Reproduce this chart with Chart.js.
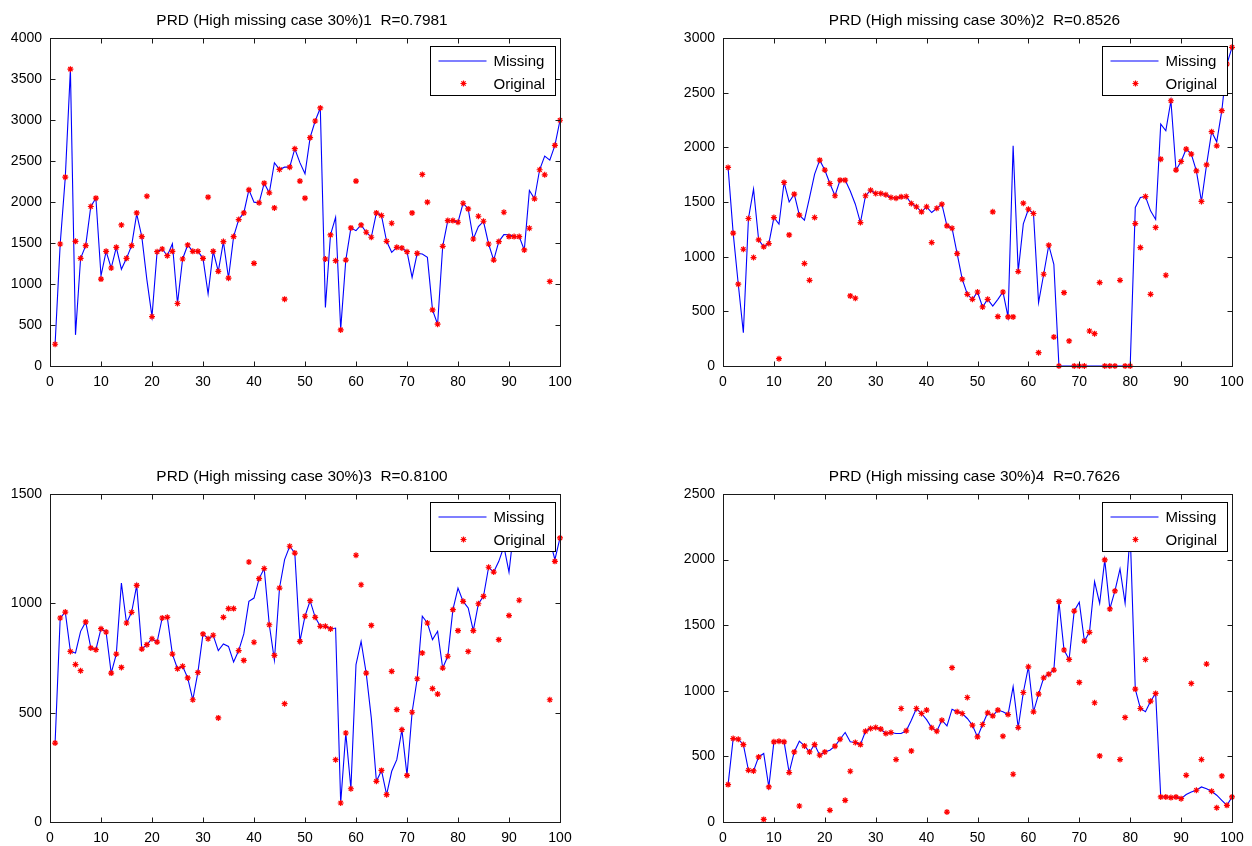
<!DOCTYPE html>
<html>
<head>
<meta charset="utf-8">
<title>PRD (High missing case 30%)</title>
<script src="https://cdn.jsdelivr.net/npm/chart.js@4/dist/chart.umd.min.js"></script>
<style>
  html, body { margin: 0; padding: 0; background: #ffffff; }
  body { width: 1252px; height: 846px; position: relative; overflow: hidden; }
  canvas { position: absolute; }
</style>
</head>
<body>
<canvas id="panel1"></canvas>
<canvas id="panel2"></canvas>
<canvas id="panel3"></canvas>
<canvas id="panel4"></canvas>
<script>
// Sample index (x axis) shared by all four panels
const sampleIndex = Array.from({ length: 100 }, (_, k) => k + 1);

// Tick labels
const xTicks = [0, 10, 20, 30, 40, 50, 60, 70, 80, 90, 100];
const yTicks1 = [0, 500, 1000, 1500, 2000, 2500, 3000, 3500, 4000];
const yTicks2 = [0, 500, 1000, 1500, 2000, 2500, 3000];
const yTicks3 = [0, 500, 1000, 1500];
const yTicks4 = [0, 500, 1000, 1500, 2000, 2500];

// Panel titles
const titles = [
  'PRD (High missing case 30%)1  R=0.7981',
  'PRD (High missing case 30%)2  R=0.8526',
  'PRD (High missing case 30%)3  R=0.8100',
  'PRD (High missing case 30%)4  R=0.7626'
];
const seriesNames = ['Missing', 'Original'];

// Panel 1
const missing1 = [265, 1488, 2303, 3620, 380, 1313, 1468, 1945, 2047, 1100,
  1398, 1195, 1447, 1180, 1313, 1468, 1855, 1578, 1050, 603,
  1394, 1427, 1345, 1490, 762, 1305, 1476, 1398, 1398, 1313,
  880, 1398, 1154, 1517, 1072, 1578, 1786, 1867, 2148, 1998,
  1990, 2230, 2112, 2479, 2397, 2425, 2425, 2650, 2480, 2344,
  2785, 2988, 3147, 713, 1598, 1814, 450, 1292, 1684, 1651,
  1720, 1631, 1570, 1867, 1835, 1521, 1386, 1447, 1439, 1394,
  1080, 1374, 1366, 1325, 685, 510, 1460, 1773, 1773, 1753,
  1985, 1916, 1549, 1700, 1765, 1488, 1292, 1517, 1602, 1600,
  1578, 1578, 1415, 2140, 2039, 2393, 2560, 2510, 2691, 2997];
const original1 = [265, 1488, 2303, 3620, 1520, 1313, 1468, 1945, 2047, 1060,
  1398, 1195, 1447, 1720, 1313, 1468, 1867, 1578, 2071, 603,
  1394, 1427, 1345, 1398, 762, 1305, 1476, 1398, 1398, 1313,
  2059, 1398, 1154, 1517, 1072, 1578, 1786, 1867, 2148, 1252,
  1990, 2230, 2112, 1928, 2397, 815, 2425, 2650, 2255, 2047,
  2785, 2988, 3147, 1305, 1598, 1284, 440, 1292, 1684, 2255,
  1720, 1631, 1570, 1867, 1835, 1521, 1741, 1447, 1439, 1394,
  1867, 1374, 2336, 1998, 685, 510, 1460, 1773, 1773, 1753,
  1985, 1916, 1549, 1826, 1765, 1488, 1292, 1517, 1875, 1578,
  1578, 1578, 1415, 1680, 2039, 2393, 2332, 1031, 2691, 2997];

// Panel 2
const missing2 = [1816, 1215, 748, 305, 1349, 1618, 1154, 1090, 1120, 1358,
  1297, 1679, 1500, 1572, 1380, 1334, 1540, 1755, 1883, 1792,
  1669, 1557, 1700, 1700, 1600, 1480, 1312, 1557, 1608, 1578,
  1578, 1566, 1541, 1535, 1547, 1550, 1486, 1456, 1410, 1456,
  1404, 1443, 1480, 1282, 1260, 1028, 794, 656, 610, 677,
  540, 610, 549, 610, 677, 449, 2014, 864, 1300, 1434,
  1395, 580, 839, 1105, 930, 0, 0, 0, 0, 0,
  0, 0, 0, 0, 0, 0, 0, 0, 0, 0,
  1450, 1541, 1550, 1419, 1340, 2213, 2152, 2426, 1792, 1871,
  1984, 1938, 1785, 1505, 1840, 2143, 2050, 2335, 2762, 2915];
const original2 = [1816, 1215, 748, 1068, 1349, 992, 1154, 1090, 1120, 1358,
  67, 1679, 1199, 1572, 1380, 937, 784, 1358, 1883, 1792,
  1669, 1557, 1700, 1700, 641, 620, 1312, 1557, 1608, 1578,
  1578, 1566, 1541, 1535, 1547, 1550, 1486, 1456, 1410, 1456,
  1129, 1443, 1480, 1282, 1260, 1028, 794, 656, 610, 677,
  540, 610, 1410, 452, 677, 449, 449, 864, 1489, 1434,
  1395, 122, 839, 1105, 265, 0, 671, 229, 0, 0,
  0, 320, 296, 763, 0, 0, 0, 784, 0, 0,
  1303, 1083, 1550, 656, 1267, 1892, 830, 2426, 1792, 1871,
  1984, 1938, 1785, 1505, 1840, 2143, 2014, 2335, 2762, 2915];

// Panel 3
const missing3 = [361, 933, 960, 780, 773, 872, 915, 796, 788, 884,
  869, 681, 768, 1093, 910, 959, 1082, 791, 811, 838,
  823, 933, 936, 768, 701, 712, 659, 559, 684, 860,
  838, 854, 784, 814, 803, 732, 784, 860, 1009, 1024,
  1113, 1159, 902, 740, 1070, 1200, 1261, 1230, 826, 941,
  1012, 936, 895, 895, 883, 887, 87, 407, 152, 720,
  826, 681, 476, 186, 236, 125, 232, 285, 422, 213,
  502, 655, 941, 910, 834, 872, 704, 758, 971, 1070,
  1009, 979, 875, 998, 1032, 1165, 1143, 1192, 1260, 1143,
  1350, 1420, 1400, 1390, 1370, 1340, 1310, 1290, 1200, 1299];
const original3 = [361, 933, 960, 780, 720, 692, 915, 796, 788, 884,
  869, 681, 768, 707, 910, 959, 1082, 791, 811, 838,
  823, 933, 936, 768, 701, 712, 659, 559, 684, 860,
  838, 854, 476, 936, 976, 976, 784, 739, 1189, 822,
  1113, 1159, 902, 762, 1070, 541, 1261, 1230, 826, 941,
  1012, 936, 895, 895, 883, 285, 87, 407, 152, 1220,
  1085, 681, 899, 186, 236, 125, 689, 514, 422, 213,
  502, 655, 773, 910, 610, 585, 704, 758, 971, 875,
  1009, 780, 875, 998, 1032, 1165, 1143, 834, 1260, 944,
  1350, 1014, 1400, 1390, 1370, 1340, 1310, 559, 1192, 1299];

// Panel 4
const missing4 = [285, 636, 631, 590, 394, 389, 496, 522, 267, 611,
  616, 611, 377, 534, 616, 580, 534, 590, 509, 534,
  547, 578, 631, 682, 611, 606, 590, 692, 713, 720,
  708, 674, 682, 674, 674, 695, 776, 865, 827, 780,
  718, 692, 776, 733, 860, 840, 827, 789, 738, 649,
  743, 832, 809, 853, 840, 819, 1031, 720, 987, 1183,
  840, 975, 1099, 1127, 1158, 1680, 1311, 1239, 1608, 1675,
  1379, 1446, 1832, 1667, 1998, 1624, 1761, 1929, 1667, 2200,
  1013, 865, 840, 921, 980, 191, 191, 186, 191, 178,
  209, 229, 242, 267, 254, 234, 204, 165, 127, 191];
const original4 = [285, 636, 631, 590, 394, 389, 496, 20, 267, 611,
  616, 611, 377, 534, 122, 580, 534, 590, 509, 534,
  89, 578, 631, 165, 387, 606, 590, 692, 713, 720,
  708, 674, 682, 476, 865, 695, 542, 865, 827, 853,
  718, 692, 776, 76, 1176, 840, 827, 949, 738, 649,
  743, 832, 809, 853, 654, 819, 364, 720, 987, 1183,
  840, 975, 1099, 1127, 1158, 1680, 1311, 1239, 1608, 1064,
  1379, 1446, 909, 504, 1998, 1624, 1761, 476, 797, 2200,
  1013, 865, 1239, 921, 980, 191, 191, 186, 191, 178,
  356, 1056, 242, 476, 1204, 234, 109, 351, 127, 191];

const FONT_FAMILY = '"Liberation Sans", Arial, Helvetica, sans-serif';
const LINE_BLUE = '#0000ff';
const MARK_RED = '#ff0000';
const AXIS_INK = '#1a1a1a';

// Axes box, inward ticks, title and an opaque legend drawn over the data
const panelDecor = {
  id: 'panelDecor',
  afterDatasetsDraw(chart, args, opts) {
    const { ctx, chartArea: a, scales } = chart;
    const xs = scales.x, ys = scales.y;
    const L = Math.round(a.left) + 0.5, T = Math.round(a.top) + 0.5;
    const R = Math.round(a.right) + 0.5, B = Math.round(a.bottom) + 0.5;
    ctx.save();

    // box
    ctx.strokeStyle = AXIS_INK;
    ctx.lineWidth = 1;
    ctx.strokeRect(L, T, R - L, B - T);

    // inward tick marks on all four sides
    ctx.beginPath();
    xs.ticks.forEach(t => {
      const px = Math.round(xs.getPixelForValue(t.value)) + 0.5;
      ctx.moveTo(px, B); ctx.lineTo(px, B - 5);
      ctx.moveTo(px, T); ctx.lineTo(px, T + 5);
    });
    ys.ticks.forEach(t => {
      const py = Math.round(ys.getPixelForValue(t.value)) + 0.5;
      ctx.moveTo(L, py); ctx.lineTo(L + 5, py);
      ctx.moveTo(R, py); ctx.lineTo(R - 5, py);
    });
    ctx.stroke();

    // title
    ctx.fillStyle = '#000000';
    ctx.font = '15.4px ' + FONT_FAMILY;
    ctx.textAlign = 'center';
    ctx.textBaseline = 'middle';
    ctx.fillText(opts.text, (a.left + a.right) / 2 - 3, a.top - 17.5);

    // legend (north-east, opaque)
    const bx = Math.round(a.right - 130) + 0.5;
    const by = Math.round(a.top + 8) + 0.5;
    const bw = 125, bh = 49;
    ctx.fillStyle = '#ffffff';
    ctx.fillRect(bx, by, bw, bh);
    ctx.strokeStyle = '#000000';
    ctx.lineWidth = 1;
    ctx.strokeRect(bx, by, bw, bh);

    const lineDs = chart.data.datasets[1];
    const markDs = chart.data.datasets[0];
    const row1 = by + 14, row2 = by + 37;

    ctx.strokeStyle = lineDs.borderColor;
    ctx.lineWidth = lineDs.borderWidth;
    ctx.beginPath();
    ctx.moveTo(bx + 8, Math.round(row1));
    ctx.lineTo(bx + 56, Math.round(row1));
    ctx.stroke();

    ctx.strokeStyle = markDs.pointBorderColor;
    ctx.fillStyle = markDs.pointBorderColor;
    ctx.lineWidth = markDs.pointBorderWidth;
    Chart.helpers.drawPoint(ctx, {
      pointStyle: markDs.pointStyle,
      radius: markDs.pointRadius,
      borderWidth: markDs.pointBorderWidth,
      rotation: 0
    }, bx + 33, row2);

    ctx.fillStyle = '#000000';
    ctx.font = '15px ' + FONT_FAMILY;
    ctx.textAlign = 'left';
    ctx.textBaseline = 'middle';
    ctx.fillText(lineDs.label, bx + 63, row1 + 1);
    ctx.fillText(markDs.label, bx + 63, row2 + 1);

    ctx.restore();
  }
};

function buildPanel(canvasId, frame, title, yTicks, missing, original) {
  const el = document.getElementById(canvasId);
  el.width = frame.w;
  el.height = frame.h;
  el.style.left = frame.x + 'px';
  el.style.top = frame.y + 'px';
  const toPoints = vals => vals.map((v, k) => ({ x: sampleIndex[k], y: v }));
  const tickFont = { family: FONT_FAMILY, size: 14 };

  return new Chart(el, {
    type: 'line',
    data: {
      datasets: [
        {
          label: seriesNames[1],
          data: toPoints(original),
          showLine: false,
          pointStyle: 'star',
          pointRadius: 3,
          pointHoverRadius: 3,
          pointBorderColor: MARK_RED,
          pointBackgroundColor: MARK_RED,
          pointBorderWidth: 1.2,
          clip: 6
        },
        {
          label: seriesNames[0],
          data: toPoints(missing),
          borderColor: LINE_BLUE,
          borderWidth: 1.1,
          pointRadius: 0,
          pointHoverRadius: 0,
          tension: 0,
          fill: false,
          clip: 3
        }
      ]
    },
    options: {
      responsive: false,
      animation: false,
      devicePixelRatio: 1,
      events: [],
      layout: { padding: frame.pad },
      plugins: {
        legend: { display: false },
        tooltip: { enabled: false },
        title: { display: false },
        panelDecor: { text: title }
      },
      scales: {
        x: {
          type: 'linear',
          min: xTicks[0],
          max: xTicks[xTicks.length - 1],
          afterBuildTicks: s => { s.ticks = xTicks.map(v => ({ value: v })); },
          afterFit: s => { s.height = 24; },
          grid: { display: false },
          border: { display: false },
          ticks: { font: tickFont, color: '#000000', padding: 0, maxRotation: 0, autoSkip: false, callback: v => String(v) }
        },
        y: {
          type: 'linear',
          min: yTicks[0],
          max: yTicks[yTicks.length - 1],
          afterBuildTicks: s => { s.ticks = yTicks.map(v => ({ value: v })); },
          afterFit: s => { s.width = 50; },
          grid: { display: false },
          border: { display: false },
          ticks: { font: tickFont, color: '#000000', padding: 0, autoSkip: false, callback: v => String(v) }
        }
      }
    },
    plugins: [panelDecor]
  });
}

buildPanel('panel1', { x: 0, y: 0, w: 626, h: 423, pad: { left: 0, top: 38, right: 66, bottom: 33 } },
  titles[0], yTicks1, missing1, original1);
buildPanel('panel2', { x: 626, y: 0, w: 626, h: 423, pad: { left: 47, top: 38, right: 20, bottom: 33 } },
  titles[1], yTicks2, missing2, original2);
buildPanel('panel3', { x: 0, y: 423, w: 626, h: 423, pad: { left: 0, top: 71, right: 66, bottom: 0 } },
  titles[2], yTicks3, missing3, original3);
buildPanel('panel4', { x: 626, y: 423, w: 626, h: 423, pad: { left: 47, top: 71, right: 20, bottom: 0 } },
  titles[3], yTicks4, missing4, original4);
</script>
</body>
</html>
